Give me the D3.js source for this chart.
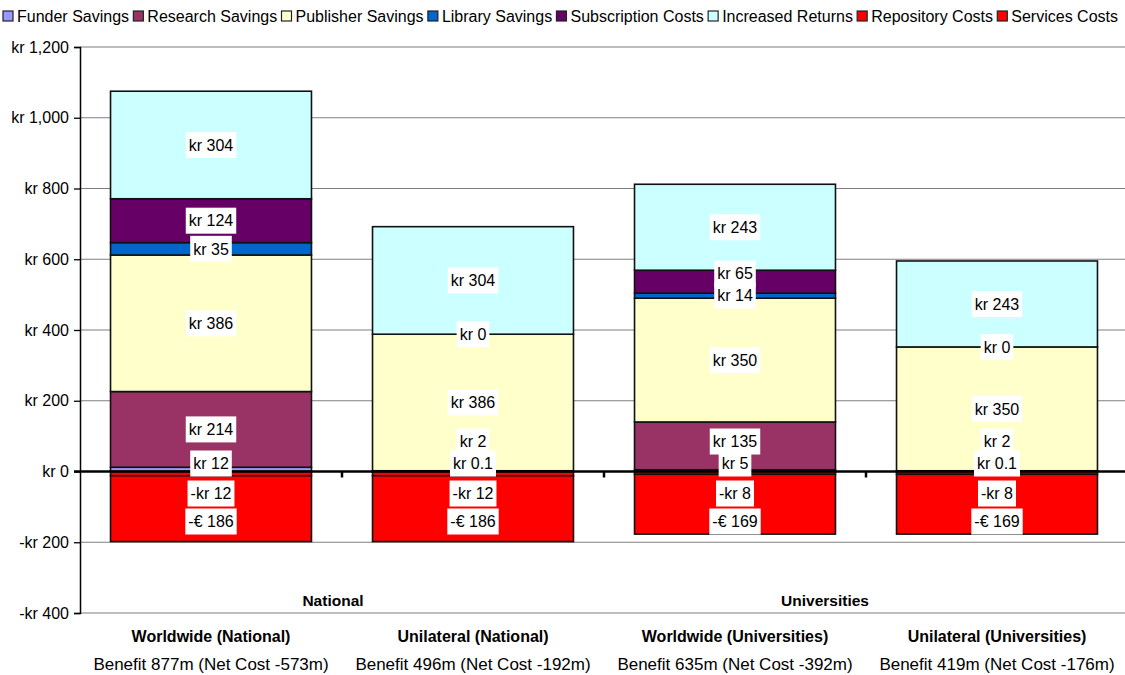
<!DOCTYPE html>
<html lang="en">
<head>
<meta charset="UTF-8">
<title>Open access savings and costs</title>
<script src="https://d3js.org/d3.v7.min.js"></script>
<style>
  body { margin: 0; background: #fff; }
  text { font-family: "Liberation Sans", Arial, sans-serif; fill: #000; }
</style>
</head>
<body>
<div id="chart"></div>
<script>
// categories and their captions
var categories = ["Worldwide (National)", "Unilateral (National)", "Worldwide (Universities)", "Unilateral (Universities)"];
var benefits = ["Benefit 877m (Net Cost -573m)", "Benefit 496m (Net Cost -192m)", "Benefit 635m (Net Cost -392m)", "Benefit 419m (Net Cost -176m)"];
var groups = ["National", "Universities"];

// series, stacked bottom to top
var seriesNames = ["Funder Savings", "Research Savings", "Publisher Savings", "Library Savings",
                   "Subscription Costs", "Increased Returns", "Repository Costs", "Services Costs"];
var seriesColors = ["#9999ff", "#993366", "#ffffcc", "#0066cc", "#660066", "#ccffff", "#ff0000", "#ff0000"];
var seriesCurrency = ["kr", "kr", "kr", "kr", "kr", "kr", "kr", "€"];

var funderSavings     = [12, 0.1, 5, 0.1];
var researchSavings   = [214, 2, 135, 2];
var publisherSavings  = [386, 386, 350, 350];
var librarySavings    = [35, 0, 14, 0];
var subscriptionCosts = [124, null, 65, null];
var increasedReturns  = [304, 304, 243, 243];
var repositoryCosts   = [-12, -12, -8, -8];
var servicesCosts     = [-186, -186, -169, -169];

var yTicks = [-400, -200, 0, 200, 400, 600, 800, 1000, 1200];

var seriesValues = [funderSavings, researchSavings, publisherSavings, librarySavings,
                    subscriptionCosts, increasedReturns, repositoryCosts, servicesCosts];

// layout
var W = 1125, H = 675;
var plot = {left: 80, right: 1128, top: 47, bottom: 613};

var svg = d3.select("#chart").append("svg")
    .attr("width", W).attr("height", H);

var x = d3.scaleBand()
    .domain(categories)
    .range([plot.left, plot.right])
    .paddingInner(0.233)
    .paddingOuter(0.1165);

var y = d3.scaleLinear()
    .domain([-400, 1200])
    .range([plot.bottom, plot.top]);

var kr = function(v) { return (v < 0 ? "-" : "") + "kr " + d3.format(",")(Math.abs(v)); };

// gridlines
svg.append("g").selectAll("line")
  .data(yTicks.filter(function(d) { return d != 0; }))
  .enter().append("line")
    .attr("x1", plot.left).attr("x2", W)
    .attr("y1", function(d) { return y(d); })
    .attr("y2", function(d) { return y(d); })
    .attr("stroke", "#7f7f7f")
    .attr("stroke-width", 1.2);

// build stacked segments
var segments = [];
categories.forEach(function(cat, ci) {
  var pos = 0, neg = 0;
  seriesValues.forEach(function(vals, si) {
    var v = vals[ci];
    if (v == null) return;
    var y0, y1;
    if (v >= 0) { y0 = pos; y1 = pos + v; pos = y1; }
    else { y0 = neg; y1 = neg + v; neg = y1; }
    segments.push({cat: cat, series: si, value: v, y0: y0, y1: y1});
  });
});

svg.append("g").selectAll("rect")
  .data(segments)
  .enter().append("rect")
    .attr("x", function(d) { return x(d.cat); })
    .attr("width", x.bandwidth())
    .attr("y", function(d) { return y(Math.max(d.y0, d.y1)); })
    .attr("height", function(d) { return Math.abs(y(d.y0) - y(d.y1)); })
    .attr("fill", function(d) { return seriesColors[d.series]; })
    .attr("stroke", "#111")
    .attr("stroke-width", 1.6);

// y axis
var yAxis = svg.append("g")
    .attr("transform", "translate(" + plot.left + ",0)")
    .call(d3.axisLeft(y).tickValues(yTicks).tickFormat(kr).tickSize(6).tickPadding(5));
yAxis.select(".domain").attr("stroke", "#000").attr("stroke-width", 1.5);
yAxis.selectAll(".tick line").attr("stroke", "#000").attr("stroke-width", 1.3);
yAxis.selectAll("text").style("font-size", "16px").style("font-family", "Liberation Sans, Arial, sans-serif");

// zero line with category separators
svg.append("line")
    .attr("x1", plot.left - 6).attr("x2", W)
    .attr("y1", y(0)).attr("y2", y(0))
    .attr("stroke", "#000").attr("stroke-width", 2.6);
svg.append("g").selectAll("line")
  .data(categories.slice(1))
  .enter().append("line")
    .attr("x1", function(d) { return x(d) - x.step() * x.paddingInner() / 2; })
    .attr("x2", function(d) { return x(d) - x.step() * x.paddingInner() / 2; })
    .attr("y1", y(0)).attr("y2", y(0) + 6)
    .attr("stroke", "#000").attr("stroke-width", 2.5);

// data labels, spread so they do not sit on top of each other
var labels = [];
categories.forEach(function(cat) {
  var segs = segments.filter(function(s) { return s.cat == cat; });
  var prev = y(0) - 8 + 22;
  segs.filter(function(s) { return s.value >= 0; }).forEach(function(s) {
    var c = Math.min(y((s.y0 + s.y1) / 2), prev - 22);
    labels.push({cat: cat, s: s, cy: c});
    prev = c;
  });
  prev = y(0) + 22 - 28;
  segs.filter(function(s) { return s.value < 0; }).forEach(function(s) {
    var c = Math.max(y((s.y0 + s.y1) / 2), prev + 28);
    labels.push({cat: cat, s: s, cy: c});
    prev = c;
  });
});

var lab = svg.append("g").selectAll("g")
  .data(labels)
  .enter().append("g")
    .attr("transform", function(d) {
      return "translate(" + (x(d.cat) + x.bandwidth() / 2) + "," + d.cy + ")";
    });
lab.append("rect").attr("fill", "#fff");
lab.append("text")
    .attr("text-anchor", "middle")
    .attr("dy", "0.36em")
    .style("font-size", "16px")
    .text(function(d) {
      return (d.s.value < 0 ? "-" : "") + seriesCurrency[d.s.series] + " " + Math.abs(d.s.value);
    });
lab.each(function() {
  var g = d3.select(this);
  var w = g.select("text").node().getComputedTextLength() + 6;
  g.select("rect").attr("x", -w / 2).attr("y", -13).attr("width", w).attr("height", 26);
});

// group labels
var groupShift = [-9, -41];
svg.append("g").selectAll("text")
  .data(groups)
  .enter().append("text")
    .attr("x", function(d, i) {
      var a = categories[i * 2], b = categories[i * 2 + 1];
      return (x(a) + x(b) + x.bandwidth()) / 2 + groupShift[i];
    })
    .attr("y", 600)
    .attr("dy", "0.36em")
    .attr("text-anchor", "middle")
    .style("font-size", "15.5px")
    .style("font-weight", "bold")
    .text(function(d) { return d; });

// category captions
var cap = svg.append("g").selectAll("g")
  .data(categories)
  .enter().append("g")
    .attr("transform", function(d) { return "translate(" + (x(d) + x.bandwidth() / 2) + ",0)"; });
cap.append("text")
    .attr("y", 636).attr("dy", "0.36em")
    .attr("text-anchor", "middle")
    .style("font-size", "16px")
    .style("font-weight", "bold")
    .text(function(d) { return d; });
cap.append("text")
    .attr("y", 664).attr("dy", "0.36em")
    .attr("text-anchor", "middle")
    .style("font-size", "17px")
    .text(function(d, i) { return benefits[i]; });

// legend across the top
var leg = svg.append("g").selectAll("g")
  .data(seriesNames)
  .enter().append("g");
leg.append("rect")
    .attr("width", 10).attr("height", 10)
    .attr("y", 11)
    .attr("fill", function(d, i) { return seriesColors[i]; })
    .attr("stroke", "#222").attr("stroke-width", 1.2);
leg.append("text")
    .attr("x", 14).attr("y", 16).attr("dy", "0.36em")
    .style("font-size", "16px")
    .text(function(d) { return d; });
var widths = [];
leg.each(function() { widths.push(14 + d3.select(this).select("text").node().getComputedTextLength()); });
var gap = (1118 - 3 - d3.sum(widths)) / (widths.length - 1);
var cx = 3;
leg.attr("transform", function(d, i) {
  var t = "translate(" + cx + ",0)";
  cx += widths[i] + gap;
  return t;
});
</script>
</body>
</html>
